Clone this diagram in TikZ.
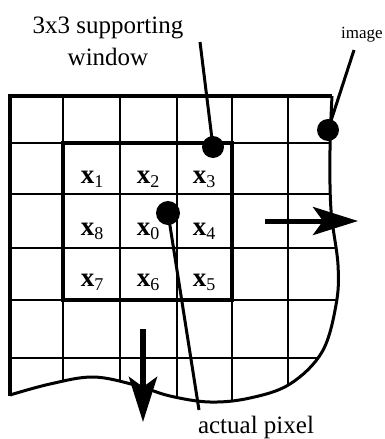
\documentclass[tikz,border=0pt]{standalone}
\usepackage{fontspec}
\setmainfont{Liberation Serif}
\usetikzlibrary{arrows.meta}
\newcommand\cellx[1]{{\bfseries x}\raisebox{-4pt}{\fontsize{18}{18}\selectfont #1}}
\tikzset{
  gridline/.style={line width=2.2pt},
  thickedge/.style={line width=4.5pt},
  edgecurve/.style={line width=3pt},
  winbox/.style={line width=4.5pt},
  celllabel/.style={anchor=base, inner sep=0pt, font=\fontsize{27}{27}\selectfont},
  bigtext/.style={inner sep=0pt, font=\fontsize{25}{32}\selectfont, align=center},
  smalltext/.style={anchor=base, inner sep=0pt, font=\fontsize{17}{18}\selectfont},
  blackdot/.style={circle, fill=black, inner sep=0pt},
  pointer/.style={line width=3pt},
  bigarrow/.style={-{Stealth[length=45pt, width=28pt, inset=10pt]}}
}
\begin{document}
\begin{tikzpicture}[x=1pt,y=-1pt]
\useasboundingbox (0,0) rectangle (385,439);
% grid, clipped to the torn image outline
\begin{scope}
  \clip (10,96) -- (332,96)
    -- plot[smooth, tension=0.6] coordinates {(332,96) (330,150) (331,210) (338,265) (336,305) (322,352) (290,384) (250,398) (210,402) (170,396) (135,385) (93,377) (50,384) (10,395)}
    -- cycle;
  \foreach \gx in {63,120,177,232,288} \draw[gridline] (\gx,90) -- (\gx,420);
  \foreach \gy in {143,194,248,300,358} \draw[gridline] (0,\gy) -- (350,\gy);
\end{scope}
% outline
\draw[edgecurve] plot[smooth, tension=0.6] coordinates {(332,96) (330,150) (331,210) (338,265) (336,305) (322,352) (290,384) (250,398) (210,402) (170,396) (135,385) (93,377) (50,384) (10,395)};
\draw[thickedge] (332,96) -- (10,96) -- (10,396);
% supporting window
\draw[winbox] (63,143) rectangle (232,300);
% cell labels
\node[celllabel] (c1) at (92,183) {\cellx{1}};
\node[celllabel] (c2) at (148,183) {\cellx{2}};
\node[celllabel] (c3) at (204,183) {\cellx{3}};
\node[celllabel] (c8) at (92,235) {\cellx{8}};
\node[celllabel] (c0) at (148,235) {\cellx{0}};
\node[celllabel] (c4) at (204,235) {\cellx{4}};
\node[celllabel] (c7) at (92,286) {\cellx{7}};
\node[celllabel] (c6) at (148,286) {\cellx{6}};
\node[celllabel] (c5) at (204,286) {\cellx{5}};
% text labels
\node[bigtext] (title) at (108,41) {3x3 supporting\\window};
\node[smalltext] (imglabel) at (362,38) {image};
\node[bigtext, anchor=base] (pixlabel) at (256,433) {actual pixel};
% pointers
\coordinate (wtip) at (200,42);
\coordinate (itip) at (354,50);
\coordinate (ctip) at (199,410);
\node[blackdot, minimum size=22pt] (wdot) at (213,147) {};
\node[blackdot, minimum size=22pt] (idot) at (328,130) {};
\node[blackdot, minimum size=24pt] (cdot) at (168,213) {};
\draw[pointer] (wdot.center) -- (wtip);
\draw[pointer] (idot.center) -- (itip);
\draw[pointer] (cdot.center) -- (ctip);
% scan direction arrows
\coordinate (rs) at (265,221);
\coordinate (rt) at (358,221);
\coordinate (ds) at (143,329);
\coordinate (dt) at (143,422);
\draw[bigarrow, line width=5pt] (rs) -- (rt);
\draw[bigarrow, line width=6pt] (ds) -- (dt);
\end{tikzpicture}
\end{document}
